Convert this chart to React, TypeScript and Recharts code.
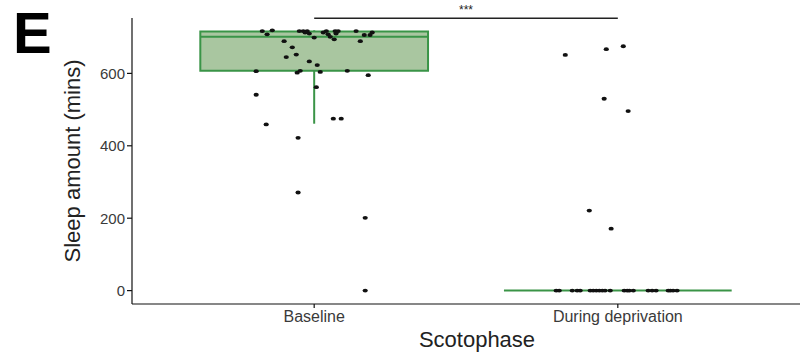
import { ScatterChart, Scatter, XAxis, YAxis, ReferenceArea, ReferenceLine } from 'recharts'

const categories = ['Baseline', 'During deprivation']

// sleep per fly during the dark phase (mins) with horizontal jitter (category units)
const baselineSleep = [
  717, 719, 708, 717, 717, 717, 713, 710, 699, 717, 713, 708, 701, 717, 717, 710, 694, 717, 706, 706, 713, 689,
  689, 672, 652, 645, 633, 623, 606, 602, 607, 604, 607, 595, 562, 541, 475, 475, 459, 422, 271, 201, 0,
]
const baselineJitter = [
  -0.171, -0.138, -0.155, -0.049, -0.036, -0.023, -0.03, -0.016, 0, 0.04, 0.03, 0.046, 0.053, 0.069, 0.079, 0.072,
  0.066, 0.138, 0.165, 0.184, 0.191, 0.152, -0.099, -0.072, -0.059, -0.092, -0.016, 0.01, -0.191, -0.056, -0.046,
  0.02, 0.109, 0.178, 0.007, -0.191, 0.063, 0.089, -0.158, -0.053, -0.053, 0.168, 0.168,
]
const deprivationSleep = [
  651, 667, 675, 530, 496, 221, 171, 0, 0, 0, 0, 0, 0, 0, 0, 0, 0, 0, 0, 0, 0, 0, 0, 0, 0, 0, 0, 0, 0, 0,
]
const deprivationJitter = [
  -0.173, -0.038, 0.018, -0.045, 0.034, -0.094, -0.022, -0.203, -0.193, -0.15, -0.134, -0.124, -0.091, -0.081,
  -0.071, -0.061, -0.051, -0.042, -0.025, 0.021, 0.031, 0.038, 0.051, 0.1, 0.113, 0.126, 0.166, 0.173, 0.182, 0.195,
]

// box stats: [lower whisker, Q1, median, Q3, upper whisker]
const baselineBox = [461, 607, 701, 716, 719]
const deprivationBox = [0, 0, 0, 0, 0]

const yTicks = [0, 200, 400, 600]
const significance = '***'
const panelLetter = 'E'

const boxes = [baselineBox, deprivationBox]
const baselinePoints = baselineSleep.map((y, i) => ({ x: 1 + baselineJitter[i], y }))
const deprivationPoints = deprivationSleep.map((y, i) => ({ x: 2 + deprivationJitter[i], y }))

const BOX_HALF = 0.375
const GREEN = '#3a9447'
const FONT = 'Liberation Sans, Arial, sans-serif'

const Dot = (props: any) => <ellipse cx={props.cx} cy={props.cy} rx={2.6} ry={1.9} fill="#111" />

// stars sitting just above the comparison bracket
const Stars = (props: any) => {
  const vb = props.viewBox || {}
  return (
    <text
      x={vb.x + (vb.width || 0) / 2}
      y={vb.y - 4}
      textAnchor="middle"
      fill="#222"
      fontSize={12}
      fontFamily={FONT}
    >
      {significance}
    </text>
  )
}

export default function App() {
  return (
    <div style={{ position: 'absolute', left: 0, top: 0, width: 803, height: 355, background: '#fff' }}>
      <svg width={70} height={70} style={{ position: 'absolute', left: 0, top: 0 }}>
        <text x={13} y={53} fontFamily={FONT} fontWeight={700} fontSize={58} fill="#000">
          {panelLetter}
        </text>
      </svg>
      <ScatterChart
        width={803}
        height={355}
        margin={{ top: 18, right: 3, bottom: 0, left: 12 }}
        style={{ position: 'absolute', left: 0, top: 0 }}
      >
        <XAxis
          type="number"
          dataKey="x"
          domain={[0.4, 2.6]}
          ticks={[1, 2]}
          tickFormatter={(v: number) => categories[v - 1]}
          allowDataOverflow
          height={51}
          tickSize={4}
          tickMargin={3}
          stroke="#111"
          strokeWidth={1.2}
          tick={{ fill: '#3a3a3a', fontSize: 16, fontFamily: FONT }}
          label={{
            value: 'Scotophase', position: 'insideBottom', offset: 8, dx: 11,
            fill: '#222', fontSize: 22, fontFamily: FONT,
          }}
        />
        <YAxis
          type="number"
          dataKey="y"
          domain={[-37, 753]}
          ticks={yTicks}
          allowDataOverflow
          width={120}
          tickSize={5}
          tickMargin={2}
          stroke="#111"
          strokeWidth={1.2}
          tick={{ fill: '#3a3a3a', fontSize: 15, fontFamily: FONT }}
          label={{
            value: 'Sleep amount (mins)', angle: -90, position: 'center',
            fill: '#222', fontSize: 22, fontFamily: FONT,
          }}
        />
        {boxes.map((b, i) => {
          const c = i + 1
          return (
            <g key={c}>
              <ReferenceArea
                x1={c - BOX_HALF} x2={c + BOX_HALF} y1={b[1]} y2={b[3]}
                fill="#a9c6a0" fillOpacity={1} stroke={GREEN} strokeWidth={2}
              />
              <ReferenceLine segment={[{ x: c - BOX_HALF, y: b[2] }, { x: c + BOX_HALF, y: b[2] }]} stroke={GREEN} strokeWidth={2} />
              <ReferenceLine segment={[{ x: c, y: b[0] }, { x: c, y: b[1] }]} stroke={GREEN} strokeWidth={2} />
              <ReferenceLine segment={[{ x: c, y: b[3] }, { x: c, y: b[4] }]} stroke={GREEN} strokeWidth={2} />
            </g>
          )
        })}
        <ReferenceLine
          segment={[{ x: 1, y: 752 }, { x: 2, y: 752 }]}
          stroke="#222"
          strokeWidth={1.5}
          ifOverflow="visible"
          label={Stars}
        />
        <Scatter data={baselinePoints} shape={Dot} isAnimationActive={false} />
        <Scatter data={deprivationPoints} shape={Dot} isAnimationActive={false} />
      </ScatterChart>
    </div>
  )
}
